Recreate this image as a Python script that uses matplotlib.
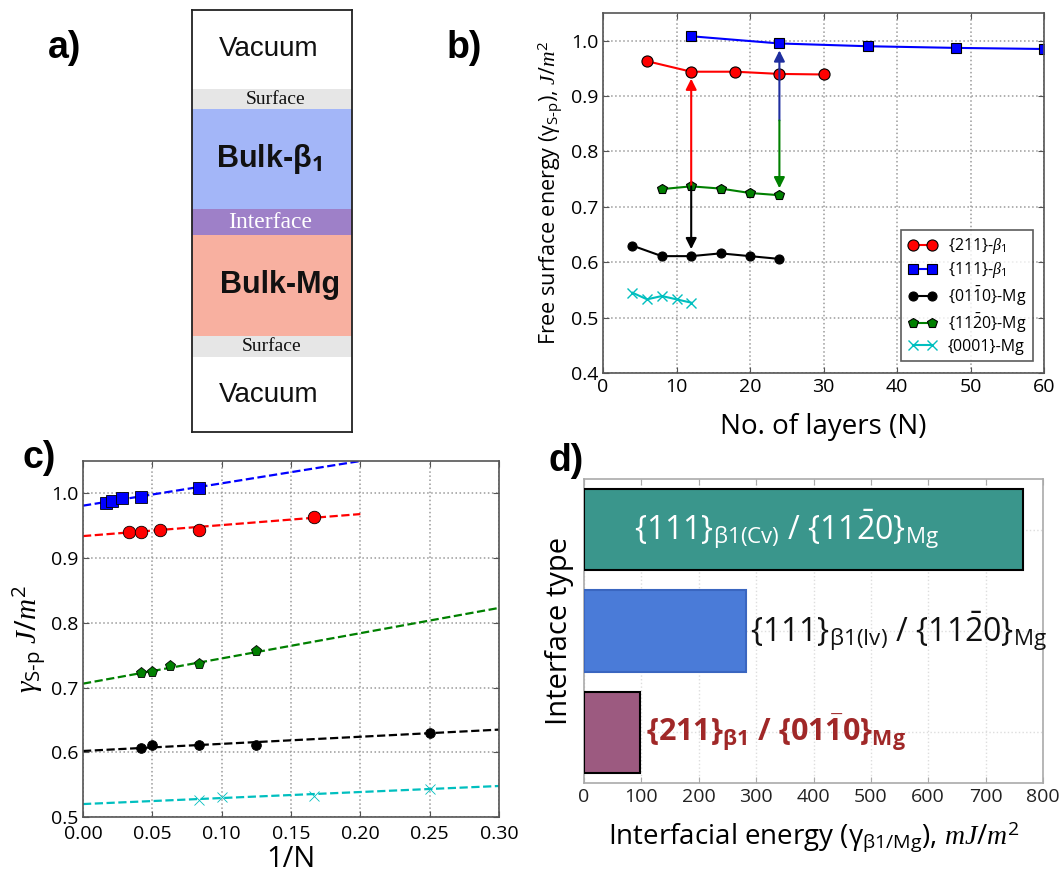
import matplotlib
matplotlib.use('Agg')
import matplotlib.pyplot as plt
import numpy as np

plt.rcParams['font.family'] = ['Open Sans', 'DejaVu Sans']
plt.rcParams['mathtext.fontset'] = 'custom'
plt.rcParams['mathtext.rm'] = 'Open Sans'
plt.rcParams['mathtext.it'] = 'Liberation Serif:italic'
plt.rcParams['mathtext.bf'] = 'Open Sans:bold'
plt.rcParams['mathtext.sf'] = 'Open Sans'

# ---------------- data ----------------
# panel a: slab schematic
layer_names = ['Vacuum', 'Surface', r'Bulk-β$_\mathbf{1}$', 'Interface', 'Bulk-Mg', 'Surface', 'Vacuum']
layer_thick = [79, 20, 100, 26, 101, 21, 75]
layer_colors = ['white', '#e6e6e6', '#a3b6f8', '#9e80c8', '#f8b0a0', '#e6e6e6', 'white']

# panel b: free surface energy vs number of layers
N_211 = [6, 12, 18, 24, 30]
E_211 = [0.963, 0.944, 0.944, 0.940, 0.939]
N_111 = [12, 24, 36, 48, 60]
E_111 = [1.008, 0.995, 0.990, 0.987, 0.985]
N_0110 = [4, 8, 12, 16, 20, 24]
E_0110 = [0.630, 0.611, 0.611, 0.616, 0.611, 0.606]
N_1120 = [8, 12, 16, 20, 24]
E_1120 = [0.732, 0.737, 0.733, 0.725, 0.721]
N_0001 = [4, 6, 8, 10, 12]
E_0001 = [0.545, 0.533, 0.539, 0.533, 0.527]
series_labels = [r'{211}-$\beta_1$', r'{111}-$\beta_1$', r'{01$\bar{1}$0}-Mg',
                 r'{11$\bar{2}$0}-Mg', '{0001}-Mg']

# arrows in panel b: (x, y_start, y_end, color)
arrow_x = [12, 12, 24, 24]
arrow_y0 = [0.737, 0.737, 0.856, 0.856]
arrow_y1 = [0.944, 0.611, 0.995, 0.721]
arrow_colors = ['red', 'black', '#1f2f9f', 'green']

# panel c: energy vs 1/N with linear extrapolations
cN_211 = [30, 24, 18, 12, 6]
cE_211 = [0.940, 0.941, 0.944, 0.944, 0.963]
cN_111 = [60, 48, 36, 24, 12]
cE_111 = [0.985, 0.988, 0.993, 0.995, 1.009]
cN_0110 = [24, 20, 12, 8, 4]
cE_0110 = [0.607, 0.611, 0.612, 0.612, 0.630]
cN_1120 = [24, 20, 16, 12, 8]
cE_1120 = [0.722, 0.724, 0.734, 0.737, 0.756]
cN_0001 = [12, 10, 6, 4]
cE_0001 = [0.527, 0.531, 0.533, 0.544]
fit_intercept = [0.934, 0.981, 0.602, 0.706, 0.520]
fit_slope = [0.170, 0.345, 0.110, 0.390, 0.093]
fit_xmax = [0.20, 0.20, 0.30, 0.30, 0.30]

# panel d: interfacial energies
d_values = [98, 282, 765]
d_colors = ['#9c5a80', '#4a7bd8', '#3a968c']
d_edges = ['black', '#3a66c0', 'black']
d_labels = [r'{211}$_{\mathbf{\beta1}}$ / {01$\mathbf{\bar{1}}$0}$_{\mathbf{Mg}}$',
            r'{111}$_{\mathrm{\beta1(Iv)}}$ / {11$\bar{2}$0}$_{\mathrm{Mg}}$',
            r'{111}$_{\mathrm{\beta1(Cv)}}$ / {11$\bar{2}$0}$_{\mathrm{Mg}}$']

colors5 = ['red', 'blue', 'black', 'green', 'c']
markers5 = ['o', 's', 'o', 'p', 'x']

W, H = 1063, 873
fig = plt.figure(figsize=(W / 100, H / 100), dpi=100)


def px_axes(l, t, r, b):
    return fig.add_axes([l / W, 1 - b / H, (r - l) / W, (b - t) / H])


def style_axes(ax, spine='#555555'):
    for s in ax.spines.values():
        s.set_color(spine)
        s.set_linewidth(1.2)
    ax.tick_params(direction='in', top=True, right=True, length=4, color=spine)
    ax.grid(True, linestyle=':', color='#9a9a9a', linewidth=1.1)
    ax.set_axisbelow(True)


# ---------------- panel a ----------------
axa = px_axes(192, 10, 352, 432)
bottoms = np.concatenate([[0], np.cumsum(layer_thick)[:-1]])
axa.bar(0.5, layer_thick, bottom=bottoms, width=1.0, color=layer_colors, edgecolor='none')
axa.set_xlim(0, 1)
axa.set_ylim(sum(layer_thick), 0)
axa.set_xticks([])
axa.set_yticks([])
for s in axa.spines.values():
    s.set_color('#222222')
    s.set_linewidth(1.3)
text_styles = [
    dict(family='Liberation Sans', size=20, color='#111111', x=0.48),
    dict(family='Liberation Serif', size=14, color='#111111', x=0.52),
    dict(family='Liberation Sans', size=22, weight='bold', color='#111111', x=0.48),
    dict(family='Liberation Serif', size=17, color='white', x=0.49),
    dict(family='Liberation Sans', size=22, weight='bold', color='#111111', x=0.55),
    dict(family='Liberation Serif', size=14, color='#111111', x=0.5),
    dict(family='Liberation Sans', size=20, color='#111111', x=0.48),
]
for name, b0, th, st in zip(layer_names, bottoms, layer_thick, text_styles):
    st = dict(st)
    xx = st.pop('x')
    axa.text(xx, b0 + th / 2, name, ha='center', va='center', **st)

# ---------------- panel b ----------------
axb = px_axes(603, 13, 1044, 373)
style_axes(axb)
b_N = [N_211, N_111, N_0110, N_1120, N_0001]
b_E = [E_211, E_111, E_0110, E_1120, E_0001]
b_ms = [8, 7.5, 6.5, 7.5, 6.5]
for xs, ys, c, m, ms, lab in zip(b_N, b_E, colors5, markers5, b_ms, series_labels):
    mec = c if m == 'x' else 'black'
    axb.plot(xs, ys, color=c, marker=m, ms=ms, mec=mec, mew=0.8 if m != 'x' else 1.0,
             lw=1.5, label=lab)
for x, y0, y1, c in zip(arrow_x, arrow_y0, arrow_y1, arrow_colors):
    axb.annotate('', xy=(x, y1), xytext=(x, y0),
                 arrowprops=dict(arrowstyle='-|>', color=c, lw=1.5, mutation_scale=16,
                                 shrinkA=0, shrinkB=5))
axb.set_xlim(0, 60)
axb.set_ylim(0.4, 1.05)
axb.set_xticks(np.arange(0, 61, 10))
axb.set_yticks(np.arange(0.4, 1.01, 0.1))
axb.yaxis.set_major_formatter(matplotlib.ticker.FormatStrFormatter('%.1f'))
axb.tick_params(labelsize=14)
axb.set_xlabel('No. of layers (N)', fontsize=20, labelpad=12)
axb.set_ylabel(r'Free surface energy (γ$_{\mathrm{S\text{-}p}}$), $J/m^2$', fontsize=15.5, labelpad=4)
leg = axb.legend(loc='lower right', numpoints=2, fontsize=11.5, frameon=True, fancybox=False,
                 borderpad=0.4, labelspacing=0.25, handlelength=1.8, handletextpad=0.7,
                 borderaxespad=0.3, bbox_to_anchor=(0.985, 0.02))
leg.get_frame().set_edgecolor('#333333')
leg.get_frame().set_linewidth(1.2)

# ---------------- panel c ----------------
axc = px_axes(83, 461, 499, 817)
style_axes(axc)
c_N = [cN_211, cN_111, cN_0110, cN_1120, cN_0001]
c_E = [cE_211, cE_111, cE_0110, cE_1120, cE_0001]
c_ms = [9, 8.5, 7, 8, 6.5]
for i, (ns, ys, c, m, ms) in enumerate(zip(c_N, c_E, colors5, markers5, c_ms)):
    xs = 1.0 / np.array(ns)
    mec = c if m == 'x' else 'black'
    axc.plot(xs, ys, linestyle='none', color=c, marker=m, ms=ms, mec=mec, mew=0.6, zorder=3)
    xe = fit_xmax[i]
    axc.plot([0, xe], [fit_intercept[i], fit_intercept[i] + fit_slope[i] * xe],
             linestyle='--', color=c, lw=1.6, zorder=2)
axc.set_xlim(0, 0.3)
axc.set_ylim(0.5, 1.05)
axc.set_xticks(np.arange(0, 0.301, 0.05))
axc.set_yticks(np.arange(0.5, 1.01, 0.1))
axc.xaxis.set_major_formatter(matplotlib.ticker.FormatStrFormatter('%.2f'))
axc.yaxis.set_major_formatter(matplotlib.ticker.FormatStrFormatter('%.1f'))
axc.tick_params(labelsize=14)
axc.tick_params(axis='x', pad=6)
axc.set_xlabel('1/N', fontsize=21, labelpad=1)
axc.set_ylabel(r'$\gamma_{\mathrm{S\text{-}p}}$ $J/m^2$', fontsize=21, labelpad=2)

# ---------------- panel d ----------------
axd = px_axes(584, 479, 1043, 783)
style_axes(axd, spine='#aaaaaa')
axd.grid(True, linestyle=':', color='#dddddd', linewidth=1.0)
pos = np.arange(len(d_values))
axd.barh(pos, d_values, height=0.8, color=d_colors, edgecolor=d_edges, linewidth=1.5, zorder=3)
axd.set_xlim(0, 800)
axd.set_ylim(-0.5, 2.5)
axd.set_xticks(np.arange(0, 801, 100))
axd.set_yticks(pos)
axd.set_yticklabels([])
axd.tick_params(labelsize=14, axis='x', colors='#222222', color='#aaaaaa')
axd.tick_params(axis='y', length=0)
axd.set_xlabel(r'Interfacial energy (γ$_{\mathrm{\beta1/Mg}}$), $mJ/m^2$', fontsize=20, labelpad=10)
axd.set_ylabel('Interface type', fontsize=21, labelpad=4)
axd.text(d_values[2] / 2 - 30, pos[2], d_labels[2], ha='center', va='center', color='white',
         fontsize=23, zorder=4)
axd.text(d_values[1] + 8, pos[1], d_labels[1], ha='left', va='center', color='#111111',
         fontsize=23, zorder=4)
axd.text(d_values[0] + 10, pos[0], d_labels[0], ha='left', va='center', color='#a02828',
         fontsize=22, fontweight='bold', zorder=4)

# panel letters
for lab, x, y in [('a)', 48, 48), ('b)', 447, 48), ('c)', 22, 458), ('d)', 548, 461)]:
    fig.text(x / W, 1 - y / H, lab, fontsize=27, fontweight='bold', family='Liberation Sans',
             ha='left', va='center')

fig.savefig('out.png', dpi=100)
